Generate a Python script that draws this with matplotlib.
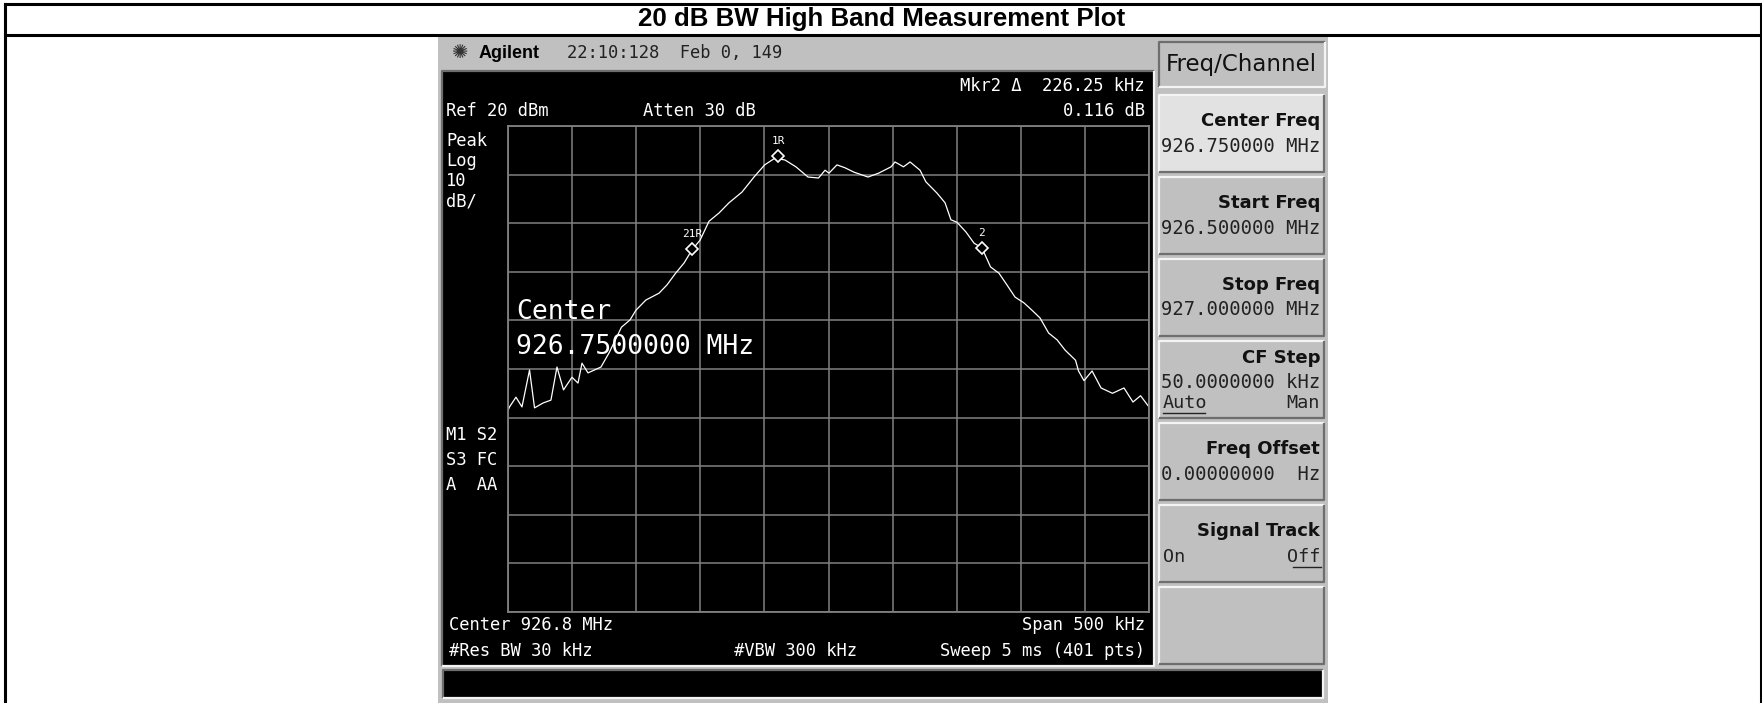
"""
20 dB BW High Band -- spectrum analyser screen re-drawn
"""

import numpy as np
import matplotlib
matplotlib.use('Agg')
import matplotlib.pyplot as plt
from matplotlib import font_manager
from matplotlib.patches import Rectangle

# ── data ────────────────────────────────────────────────────────────────

START_MHZ = 926.5
SPAN_KHZ = 500
REF_DBM = 20
DB_PER_DIV = 10

trace_khz = [0, 1.2, 6.2, 10.9, 16.8, 20.7, 27.3, 33.5, 38.2, 43.3,
             49.9, 54.6, 57.7, 62.4, 72.5, 78.8, 88.5, 95.2, 99.8, 107.6,
             117.8, 124, 130.7, 137.3, 143.5, 149.8, 156.8, 164.6, 172.4, 182.5,
             191.9, 200.2, 208.3, 216.1, 224.6, 234, 242.2, 247.3, 250.4, 256.6,
             262.9, 269.9, 280.8, 289.1, 298.8, 301.9, 308.5, 313.6, 321.4, 326,
             334.6, 340.9, 345.5, 350.2, 357.2, 363.5, 369.7, 376.4, 383, 389.2,
             395.5, 402.5, 408.7, 415, 421.7, 428.3, 434.5, 442.7, 445, 449.3,
             455.6, 462.6, 471.5, 480.5, 487.5, 493.4, 500]
trace_dbm = [-38.5, -37.8, -35.8, -37.8, -30.2, -38.0, -37.0, -36.4, -29.6, -34.3,
             -31.7, -32.9, -28.8, -30.8, -29.6, -26.7, -21.4, -19.9, -17.9, -15.8,
             -14.4, -12.7, -10.3, -8.2, -5.5, -3.5, 0.4, 2.1, 4.2, 6.4,
             9.5, 12.0, 13.4, 13.0, 11.6, 9.5, 9.3, 10.9, 10.3, 12.0,
             11.4, 10.5, 9.5, 10.3, 11.6, 12.6, 11.6, 12.6, 10.9, 8.5,
             6.2, 4.2, 0.7, 0.2, -1.8, -4.1, -5.1, -9.0, -10.3, -12.7,
             -15.2, -16.4, -17.9, -19.5, -22.6, -24.0, -26.1, -28.2, -30.4, -32.4,
             -30.4, -33.9, -35.0, -33.9, -36.8, -35.5, -37.8]

marker_khz = [210.6, 143.5, 369.7]
marker_dbm = [13.8, -5.3, -5.2]
marker_labels = ['1R', '21R', '2']

key_titles = ['Center Freq', 'Start Freq', 'Stop Freq', 'CF Step',
              'Freq Offset', 'Signal Track', '']
key_values = ['926.750000 MHz', '926.500000 MHz', '927.000000 MHz',
              '50.0000000 kHz', '0.00000000  Hz', '', '']
key_options = [None, None, None, ('Auto', 'Man'), None, ('On', 'Off'), None]

# ── look ────────────────────────────────────────────────────────────────

W, H = 1762, 703
GRAY = '#c0c0c0'
GRID = '#808080'
MONO = 'DejaVu Sans Mono'

names = {f.name for f in font_manager.fontManager.ttflist}
if 'Liberation Sans Narrow' in names:
    BIG_FONT, BIG_SIZE = 'Liberation Sans Narrow', 26
else:
    BIG_FONT, BIG_SIZE = MONO, 19

fig = plt.figure(figsize=(W / 100, H / 100), dpi=100)
fig.patch.set_facecolor('white')

bg = fig.add_axes([0, 0, 1, 1])
bg.set_xlim(0, W)
bg.set_ylim(H, 0)
bg.axis('off')


def box(x0, y0, x1, y1, fc, raised=None):
    bg.add_patch(Rectangle((x0, y0), x1 - x0, y1 - y0, fc=fc, ec='none'))
    if raised is None:
        return
    lite, dark = ('#f4f4f4', '#6e6e6e') if raised else ('#6e6e6e', '#f4f4f4')
    bg.plot([x0, x0, x1], [y1, y0, y0], color=lite, lw=1.6, solid_capstyle='butt')
    bg.plot([x0, x1, x1], [y1, y1, y0], color=dark, lw=1.6, solid_capstyle='butt')


def txt(x, y, s, size=12.3, ha='left', family=MONO, **kw):
    fig.text(x / W, 1 - y / H, s, ha=ha, va='center', fontsize=size,
             family=family, **kw)


# outer table
bg.plot([5, 5], [H, 4], color='black', lw=2.2)
bg.plot([1760.5, 1760.5], [H, 4], color='black', lw=2.2)
bg.plot([5, 1760.5], [4, 4], color='black', lw=2.2)
bg.plot([5, 1760.5], [35, 35], color='black', lw=2.2)
txt(882, 19, '20 dB BW High Band Measurement Plot', size=18.6, ha='center',
    family='Liberation Sans', weight='bold')

# instrument screen
box(438, 37, 1328, H, GRAY)
box(442, 71, 1154, 666, 'black', raised=False)
box(443, 670, 1323, 698, 'black', raised=False)

# title bar of the screen
txt(460, 53, '\u273a', size=14, ha='center', family='DejaVu Sans', color='#333333')
txt(479, 53, 'Agilent', size=13, family='Liberation Sans', weight='bold')
txt(567, 53, '22:10:128  Feb 0, 149', size=12.3, color='#222222')

# annotation texts on the black area
W_ = dict(color='white')
txt(1145, 86, 'Mkr2 \u0394  226.25 kHz', ha='right', **W_)
txt(446, 111, 'Ref 20 dBm', **W_)
txt(643, 111, 'Atten 30 dB', **W_)
txt(1145, 111, '0.116 dB', ha='right', **W_)
for i, s in enumerate(['Peak', 'Log', '10', 'dB/']):
    txt(446, 140.5 + i * 20.5, s, **W_)
for i, s in enumerate(['M1 S2', 'S3 FC', 'A  AA']):
    txt(446, 435 + i * 25, s, **W_)
txt(449, 625, 'Center 926.8 MHz', **W_)
txt(1145, 625, 'Span 500 kHz', ha='right', **W_)
txt(449, 651, '#Res BW 30 kHz', **W_)
txt(734, 651, '#VBW 300 kHz', **W_)
txt(1145, 651, 'Sweep 5 ms (401 pts)', ha='right', **W_)

# softkeys
box(1159, 42, 1325, 87, GRAY, raised=False)
txt(1241, 65, 'Freq/Channel', size=16.5, ha='center', family='DejaVu Sans',
    color='#111111')
for i, title in enumerate(key_titles):
    top = 95 + i * 82
    box(1159, top, 1324, top + 77, '#e2e2e2' if i == 0 else GRAY, raised=True)
    opts = key_options[i]
    if title == '':
        continue
    if opts is not None and key_values[i]:
        ys = (top + 17, top + 41, top + 62)
    else:
        ys = (top + 26, top + 51, top + 52)
    txt(1320, ys[0], title, size=13, ha='right', family='DejaVu Sans',
        weight='bold', color='#111111')
    if key_values[i]:
        txt(1320, ys[1], key_values[i], size=13.6, ha='right', color='#222222')
    if opts is not None:
        txt(1163, ys[2], opts[0], size=13.3, color='#222222')
        txt(1320, ys[2], opts[1], size=13.3, ha='right', color='#222222')
        # underline the selected option
        if opts[0] == 'Auto':
            bg.plot([1163, 1205], [ys[2] + 10, ys[2] + 10], color='#222222', lw=1)
        else:
            bg.plot([1293, 1321], [ys[2] + 10, ys[2] + 10], color='#222222', lw=1)

# ── graticule + trace ──────────────────────────────────────────────────

GX0, GX1, GY0, GY1 = 508, 1149, 126, 612
ax = fig.add_axes([GX0 / W, 1 - GY1 / H, (GX1 - GX0) / W, (GY1 - GY0) / H])
ax.set_facecolor('black')
stop_mhz = START_MHZ + SPAN_KHZ / 1000
ax.set_xlim(START_MHZ, stop_mhz)
ax.set_ylim(REF_DBM - 10 * DB_PER_DIV, REF_DBM)
ax.set_xticks(np.linspace(START_MHZ, stop_mhz, 11))
ax.set_yticks(np.arange(REF_DBM - 10 * DB_PER_DIV, REF_DBM + 1, DB_PER_DIV))
ax.grid(color=GRID, lw=1.1)
ax.tick_params(length=0, labelbottom=False, labelleft=False)
for s in ax.spines.values():
    s.set_color(GRID)
    s.set_linewidth(1.3)

freqs = START_MHZ + np.array(trace_khz) / 1000
ax.plot(freqs, trace_dbm, color='white', lw=0.9)

mf = START_MHZ + np.array(marker_khz) / 1000
ax.plot(mf, marker_dbm, ls='none', marker='D', ms=6.5, mfc='black',
        mec='white', mew=1.2)
for f, d, lab in zip(mf, marker_dbm, marker_labels):
    ax.annotate(lab, (f, d), xytext=(0, 11), textcoords='offset points',
                ha='center', va='center', fontsize=8, family=MONO, color='white')

txt(516, 312, 'Center', size=BIG_SIZE, family=BIG_FONT, color='white')
txt(516, 347, '926.7500000 MHz', size=BIG_SIZE, family=BIG_FONT, color='white')

plt.savefig('out.png', dpi=100, facecolor=fig.get_facecolor())
